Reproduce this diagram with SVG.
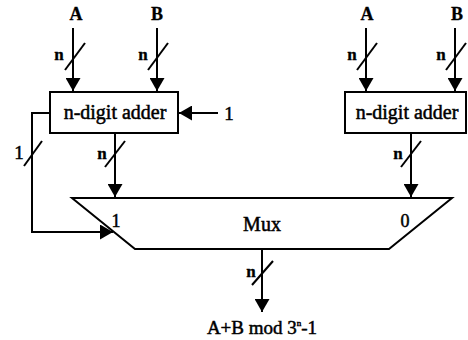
<svg xmlns="http://www.w3.org/2000/svg" width="468" height="340" viewBox="0 0 468 340">
<style>
.box{fill:#fff;stroke:#000;stroke-width:2}
.w{fill:none;stroke:#000;stroke-width:2}
.t{font-family:"Liberation Serif","Times New Roman",serif;fill:#000;stroke:#000;stroke-width:0.5}
.b{font-weight:bold;stroke-width:0.3}
</style>
<defs>
<marker id="ah" markerWidth="14" markerHeight="15" refX="13" refY="7.5" orient="auto" markerUnits="userSpaceOnUse">
<path d="M0,0 L13,7.5 L0,15 z" fill="#000"/>
</marker>
</defs>
<rect width="468" height="340" fill="#fff"/>
<g id="connectors">
<path class="w" d="M73,28 V91" marker-end="url(#ah)"/>
<path class="w" d="M157,28 V91" marker-end="url(#ah)"/>
<path class="w" d="M366,28 V91" marker-end="url(#ah)"/>
<path class="w" d="M455,28 V91" marker-end="url(#ah)"/>
<path class="w" d="M218,113 H179" marker-end="url(#ah)"/>
<path class="w" d="M115,133 V197" marker-end="url(#ah)"/>
<path class="w" d="M411,133 V197" marker-end="url(#ah)"/>
<path class="w" d="M50,113 H32 V232 H113" marker-end="url(#ah)"/>
<path class="w" d="M262,249 V312" marker-end="url(#ah)"/>
<g class="w">
<path d="M65,70 L85,43"/>
<path d="M148,70 L168,43"/>
<path d="M357,70 L377,43"/>
<path d="M446,70 L466,43"/>
<path d="M24,166 L42,141"/>
<path d="M105,167 L125,141"/>
<path d="M401,167 L421,141"/>
<path d="M252,285 L273,261"/>
</g>
<g class="t b" font-size="17">
<text x="59" y="60" text-anchor="middle">n</text>
<text x="143" y="60" text-anchor="middle">n</text>
<text x="352" y="60" text-anchor="middle">n</text>
<text x="441" y="60" text-anchor="middle">n</text>
<text x="102" y="159" text-anchor="middle">n</text>
<text x="398" y="159" text-anchor="middle">n</text>
<text x="251" y="277" text-anchor="middle">n</text>
</g>
<text class="t" font-size="19" x="19" y="159" text-anchor="middle">1</text>
<text class="t" font-size="19" x="229" y="120" text-anchor="middle">1</text>
</g>
<g id="labelA1"><text class="t b" font-size="18" x="76" y="20" text-anchor="middle">A</text></g>
<g id="labelB1"><text class="t b" font-size="18" x="157" y="20" text-anchor="middle">B</text></g>
<g id="labelA2"><text class="t b" font-size="18" x="367" y="20" text-anchor="middle">A</text></g>
<g id="labelB2"><text class="t b" font-size="18" x="457" y="20" text-anchor="middle">B</text></g>
<g id="adder1">
<rect class="box" x="50" y="92" width="128" height="41"/>
<text class="t" font-size="20" x="115" y="119" text-anchor="middle">n-digit adder</text>
</g>
<g id="adder2">
<rect class="box" x="345" y="92" width="121" height="41"/>
<text class="t" font-size="20" x="407" y="119" text-anchor="middle">n-digit adder</text>
</g>
<g id="mux">
<path class="box" d="M72,198 H452 L389,249 H135 Z"/>
<text class="t" font-size="20" x="262" y="231" text-anchor="middle">Mux</text>
<text class="t" font-size="18" x="116" y="227" text-anchor="middle">1</text>
<text class="t" font-size="18" x="405" y="227" text-anchor="middle">0</text>
</g>
<g id="output">
<text class="t" font-size="19" x="262" y="334" text-anchor="middle">A+B mod 3<tspan font-size="9" dy="-8">n</tspan><tspan dy="8">-1</tspan></text>
</g>
</svg>
